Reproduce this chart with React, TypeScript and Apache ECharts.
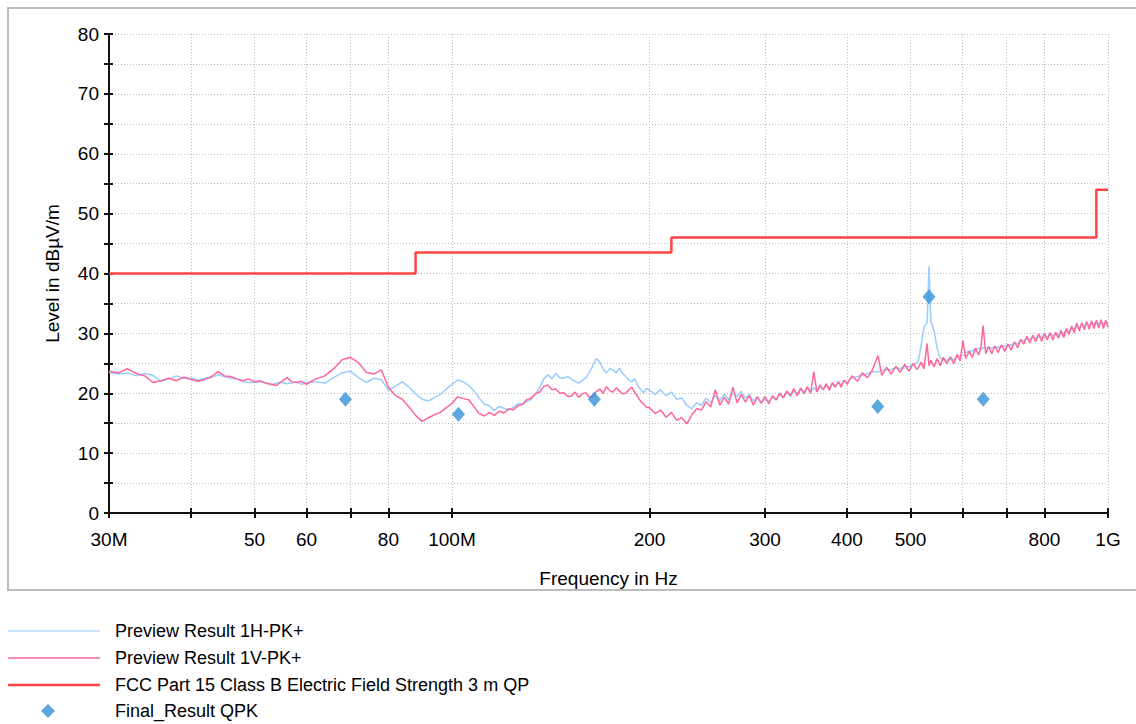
import React, { useEffect, useRef } from "react";
import * as echarts from "echarts";

// ---- Sweep frequencies (MHz), in segments ----
const freqA = [30, 31, 32, 33, 34, 35, 36, 37, 38, 39, 40, 41, 42, 43, 44, 45, 46, 47, 48, 49, 50, 51, 52, 53, 54, 55, 56, 57, 58, 59, 60];
const freqB = [62, 64, 66, 68, 70, 72, 74, 76, 78, 80, 82, 84, 86, 88, 90, 92, 94, 96, 98];
const freqC = [
  100, 102, 104, 106, 108, 110, 112, 114, 116, 118, 120, 122, 124, 126, 128, 130, 132, 134, 136, 138,
  140, 142, 144, 146, 148, 150, 152, 154, 156, 158, 160, 162, 164, 166, 168, 170, 172, 174, 176, 178,
  180, 182, 184, 186, 188, 190, 192, 194, 196, 198,
];
const freqD = [
  200, 204, 208, 212, 216, 220, 224, 228, 232, 236, 240, 244, 248, 252, 256, 260, 264, 268, 272, 276,
  280, 284, 288, 292, 296, 300, 304, 308, 312, 316, 320, 324, 328, 332, 336, 340, 344, 348, 352, 356,
  360, 364, 368, 372, 376, 380, 384, 388, 392, 396, 400,
];
const freqE = [
  407, 415, 422, 430, 437, 446, 452, 460, 467, 475, 482, 490, 497, 505, 511, 514, 519, 524, 530, 533.5,
  537, 543, 549, 555, 561, 568, 575, 582, 589, 595, 601, 607, 614, 621, 628, 635, 640, 645, 651, 658,
  665, 672, 680, 688, 696, 704, 712, 720, 728, 736, 744, 752, 760, 768, 776, 784, 792, 800, 808, 816,
  824, 832, 840, 848, 856, 864, 872, 880, 888, 896, 904, 912, 920, 928, 936, 944, 952, 960, 968, 976,
  984, 992, 1000,
];

// ---- Preview Result 1H-PK+ (dBµV/m) ----
const hA = [23.5, 23.2, 23.4, 22.9, 23.3, 23.0, 22.0, 22.4, 22.9, 22.5, 22.5, 22.2, 22.5, 22.6, 23.1, 22.8, 22.5, 22.4, 21.9, 21.8, 21.8, 21.9, 21.7, 21.4, 21.7, 21.8, 21.6, 21.7, 21.9, 21.5, 21.8];
const hB = [21.9, 21.7, 22.6, 23.4, 23.7, 22.6, 21.8, 22.5, 22.3, 20.5, 21.2, 21.9, 21.0, 19.9, 19.0, 18.7, 19.3, 19.8, 20.7];
const hC = [
  21.5, 22.2, 21.9, 21.3, 20.4, 19.2, 18.2, 17.9, 17.1, 17.8, 17.5, 17.2, 17.6, 18.3, 18.2, 18.6, 19.0, 19.9, 20.9, 22.4,
  23.1, 22.4, 23.3, 22.6, 22.5, 22.8, 22.4, 22.0, 21.7, 22.1, 22.6, 23.5, 24.6, 25.8, 25.2, 24.0, 23.4, 24.1, 23.9, 23.4,
  24.2, 23.3, 22.8, 22.2, 21.9, 22.4, 21.2, 20.6, 20.1, 20.8,
];
const hD = [
  20.5, 19.8, 20.6, 19.6, 20.2, 19.0, 19.2, 18.0, 17.4, 18.4, 18.0, 19.2, 18.4, 19.6, 18.8, 19.8, 18.9, 20.0, 19.5, 20.3,
  19.2, 19.8, 18.7, 19.4, 18.5, 19.1, 18.6, 19.4, 18.9, 19.8, 19.3, 20.1, 19.5, 20.4, 19.9, 20.6, 20.0, 20.8, 20.2, 20.9,
  20.4, 21.1, 20.6, 21.3, 20.8, 21.5, 21.1, 21.8, 21.4, 22.1, 21.8,
];
const hE = [
  22.6, 22.8, 23.0, 23.3, 23.6, 23.6, 23.8, 24.0, 23.9, 24.3, 24.1, 24.5, 24.4, 24.8, 25.0, 25.5, 28.0, 31.0, 31.8, 41.2,
  32.0, 30.5, 27.5, 25.8, 25.6, 25.5, 25.8, 25.6, 26.0, 26.2, 26.3, 26.8, 27.0, 27.1, 27.3, 27.5, 27.4, 27.6, 27.5, 27.7,
  27.5, 27.8, 27.6, 27.9, 27.8, 28.1, 28.0, 28.4, 28.3, 28.8, 28.7, 29.2, 29.0, 29.4, 29.2, 29.6, 29.3, 29.7, 29.4, 29.8,
  29.6, 29.9, 29.7, 30.1, 29.9, 30.5, 30.3, 30.9, 30.7, 31.3, 31.0, 31.5, 31.2, 31.7, 31.3, 31.8, 31.4, 31.9, 31.5, 32.0,
  31.5, 32.0, 31.6,
];

// ---- Preview Result 1V-PK+ (dBµV/m) ----
const vA = [23.7, 23.4, 24.1, 23.3, 22.9, 21.8, 22.1, 22.5, 22.1, 22.7, 22.3, 22.0, 22.3, 22.8, 23.6, 22.9, 22.8, 22.4, 22.1, 22.4, 21.9, 22.1, 21.7, 21.5, 21.3, 22.0, 22.6, 21.9, 21.8, 22.0, 21.5];
const vB = [22.4, 22.9, 24.1, 25.6, 26.0, 25.1, 23.5, 23.2, 23.9, 21.0, 19.6, 19.0, 17.7, 16.3, 15.3, 15.9, 16.4, 16.8, 17.6];
const vC = [
  18.3, 19.4, 19.1, 18.9, 17.8, 16.6, 16.2, 16.8, 16.3, 17.0, 16.7, 17.4, 17.2, 17.9, 18.1, 18.9, 19.2, 19.9, 20.2, 21.1,
  21.4, 20.6, 20.7, 20.0, 20.1, 19.5, 19.5, 20.2, 19.3, 19.9, 20.1, 19.3, 19.5, 20.3, 20.7, 20.0, 21.1, 20.4, 20.2, 20.9,
  20.4, 19.9, 20.0, 20.6, 21.0, 20.1, 19.4, 18.6, 18.2, 17.6,
];
const vD = [
  17.6, 16.6, 17.2, 16.0, 16.8, 15.5, 15.9, 14.9, 16.4, 17.4, 17.2, 18.6, 17.7, 20.6, 18.0, 19.3, 18.2, 21.0, 18.4, 19.8,
  18.5, 19.6, 18.0, 19.4, 18.3, 19.5, 18.2, 19.6, 18.9, 20.0, 19.2, 20.4, 19.6, 20.8, 19.6, 20.9, 20.0, 21.1, 20.0, 23.6,
  20.2, 21.4, 20.6, 21.6, 20.5, 21.8, 21.0, 22.0, 21.0, 22.2, 21.5,
];
const vE = [
  22.9, 22.0, 23.4, 22.6, 23.8, 26.3, 23.0, 24.3, 23.2, 24.5, 23.5, 24.8, 23.7, 25.0, 24.0, 24.3, 25.2, 24.1, 28.3, 24.6,
  25.5, 24.4, 25.8, 24.6, 26.0, 24.9, 26.1, 25.0, 26.5, 25.4, 28.8, 25.8, 27.0, 26.0, 27.5, 26.4, 27.6, 31.3, 26.6, 27.8,
  26.6, 27.9, 26.8, 28.1, 27.0, 28.2, 27.2, 28.6, 27.6, 29.0, 28.2, 29.5, 28.4, 29.7, 28.6, 29.9, 28.7, 30.0, 28.9, 30.1,
  28.9, 30.2, 29.2, 30.5, 29.3, 30.8, 29.8, 31.2, 30.1, 31.7, 30.4, 31.8, 30.6, 32.0, 30.7, 32.1, 30.8, 32.2, 30.9, 32.3,
  30.8, 32.2, 31.0,
];

// ---- FCC Part 15 Class B limit (3 m, QP) ----
const limitFreq = [30, 88, 88, 216, 216, 960, 960, 1000];
const limitLevel = [40, 40, 43.5, 43.5, 46, 46, 54, 54];

// ---- Final QPK measurements ----
const finalFreq = [68.8, 102.3, 164.8, 445.6, 533.5, 645.3];
const finalLevel = [19.0, 16.5, 19.0, 17.8, 36.1, 19.0];

// ---- Axis ticks / labels ----
const xLabelValues = [30, 50, 60, 80, 100, 200, 300, 400, 500, 800, 1000];
const xLabelText = ["30M", "50", "60", "80", "100M", "200", "300", "400", "500", "800", "1G"];
const xTickValues = [30, 40, 50, 60, 70, 80, 100, 200, 300, 400, 500, 600, 700, 800, 1000];

const NAME_H = "Preview Result 1H-PK+";
const NAME_V = "Preview Result 1V-PK+";
const NAME_L = "FCC Part 15 Class B Electric Field Strength 3 m QP";
const NAME_F = "Final_Result QPK";

const FONT = "'Liberation Sans', Arial, Helvetica, sans-serif";
const C_H = "#99ccff";
const C_V = "#ff6699";
const C_L = "#ff4444";
const C_F = "#3592d8";

const lg = (f: number) => Math.log10(f);

const freqAll = [...freqA, ...freqB, ...freqC, ...freqD, ...freqE];
const levelH = [...hA, ...hB, ...hC, ...hD, ...hE];
const levelV = [...vA, ...vB, ...vC, ...vD, ...vE];

export default function App() {
  const ref = useRef<HTMLDivElement>(null);

  useEffect(() => {
    if (!ref.current) return;
    const chart = echarts.init(ref.current, undefined, { renderer: "svg" });
    const xMin = lg(30);
    const xMax = 3;
    const gridLine = { show: true, lineStyle: { color: "#bdbdbd", width: 1, type: [1, 2] as any } };
    const legendText = { fontSize: 18, color: "#000", fontFamily: FONT, padding: [0, 0, 0, 10] };
    const legendBase = { selectedMode: false, padding: 0, orient: "horizontal" };

    chart.setOption({
      animation: false,
      backgroundColor: "#ffffff",
      textStyle: { fontFamily: FONT },
      grid: { left: 109, top: 34, right: 28, bottom: 211, containLabel: false, outerBoundsMode: "none" },
      xAxis: [
        {
          type: "value",
          min: xMin,
          max: xMax,
          position: "bottom",
          name: "Frequency in Hz",
          nameLocation: "middle",
          nameGap: 56,
          nameTextStyle: { fontSize: 19, color: "#000", fontFamily: FONT },
          axisLine: { show: true, onZero: false, lineStyle: { color: "#111", width: 2 } },
          axisTick: { show: true, inside: false, length: 5, lineStyle: { color: "#111", width: 2 }, customValues: xTickValues.map((f) => lg(f)) },
          axisLabel: {
            show: true,
            margin: 17,
            fontSize: 19,
            color: "#000",
            fontFamily: FONT,
            customValues: xLabelValues.map((f) => lg(f)),
            formatter: (v: number) => {
              const i = xLabelValues.findIndex((f) => Math.abs(lg(f) - v) < 1e-6);
              return i >= 0 ? xLabelText[i] : "";
            },
          },
          splitLine: gridLine,
        },
        {
          type: "value",
          min: xMin,
          max: xMax,
          position: "bottom",
          axisLine: { show: false },
          axisTick: { show: true, inside: true, length: 5, lineStyle: { color: "#111", width: 2 }, customValues: xTickValues.map((f) => lg(f)) },
          axisLabel: { show: false },
          splitLine: { show: false },
        },
      ],
      yAxis: [
        {
          type: "value",
          min: 0,
          max: 80,
          interval: 5,
          position: "left",
          name: "Level in dBµV/m",
          nameLocation: "middle",
          nameGap: 47,
          nameTextStyle: { fontSize: 19, color: "#000", fontFamily: FONT },
          axisLine: { show: true, onZero: false, lineStyle: { color: "#111", width: 2 } },
          axisTick: { show: true, inside: false, length: 5, lineStyle: { color: "#111", width: 2 } },
          axisLabel: {
            margin: 10,
            fontSize: 19,
            color: "#000",
            fontFamily: FONT,
            formatter: (v: number) => (v % 10 === 0 ? String(v) : ""),
          },
          splitLine: gridLine,
        },
        {
          type: "value",
          min: 0,
          max: 80,
          interval: 5,
          position: "left",
          axisLine: { show: false },
          axisTick: { show: true, inside: true, length: 4, lineStyle: { color: "#111", width: 2 } },
          axisLabel: { show: false },
          splitLine: { show: false },
        },
      ],
      legend: [
        { ...legendBase, left: 8, top: 622, itemWidth: 92, itemHeight: 1.2, data: [{ name: NAME_H, icon: "rect" }], textStyle: legendText },
        { ...legendBase, left: 8, top: 649, itemWidth: 92, itemHeight: 1.6, data: [{ name: NAME_V, icon: "rect" }], textStyle: legendText },
        { ...legendBase, left: 8, top: 676, itemWidth: 92, itemHeight: 2.5, data: [{ name: NAME_L, icon: "rect" }], textStyle: legendText },
        { ...legendBase, left: 41, top: 702, itemWidth: 14, itemHeight: 14, data: [{ name: NAME_F, icon: "diamond" }], textStyle: { ...legendText, padding: [0, 0, 0, 55] } },
      ],
      graphic: [
        { type: "rect", z: 90, silent: true, shape: { x: 300, y: 591, width: 600, height: 8 }, style: { fill: "#ffffff" } },
        { type: "rect", z: 100, silent: true, shape: { x: 8, y: 8, width: 1140, height: 582 }, style: { fill: "none", stroke: "#bcbcbc", lineWidth: 2 } },
      ],
      series: [
        {
          name: NAME_H,
          type: "line",
          data: freqAll.map((f, i) => [lg(f), levelH[i]]),
          showSymbol: false,
          symbol: "none",
          lineStyle: { color: C_H, width: 1.5 },
          itemStyle: { color: C_H },
          z: 2,
        },
        {
          name: NAME_V,
          type: "line",
          data: freqAll.map((f, i) => [lg(f), levelV[i]]),
          showSymbol: false,
          symbol: "none",
          lineStyle: { color: C_V, width: 1.5 },
          itemStyle: { color: C_V },
          z: 3,
        },
        {
          name: NAME_L,
          type: "line",
          data: limitFreq.map((f, i) => [lg(f), limitLevel[i]]),
          showSymbol: false,
          symbol: "none",
          lineStyle: { color: C_L, width: 2.5 },
          itemStyle: { color: C_L },
          z: 4,
        },
        {
          name: NAME_F,
          type: "scatter",
          data: finalFreq.map((f, i) => [lg(f), finalLevel[i]]),
          symbol: "diamond",
          symbolSize: [13, 15],
          itemStyle: { color: C_F },
          z: 5,
        },
      ],
    });

    return () => chart.dispose();
  }, []);

  return <div ref={ref} style={{ position: "fixed", left: 0, top: 0, width: 1136, height: 724 }} />;
}
